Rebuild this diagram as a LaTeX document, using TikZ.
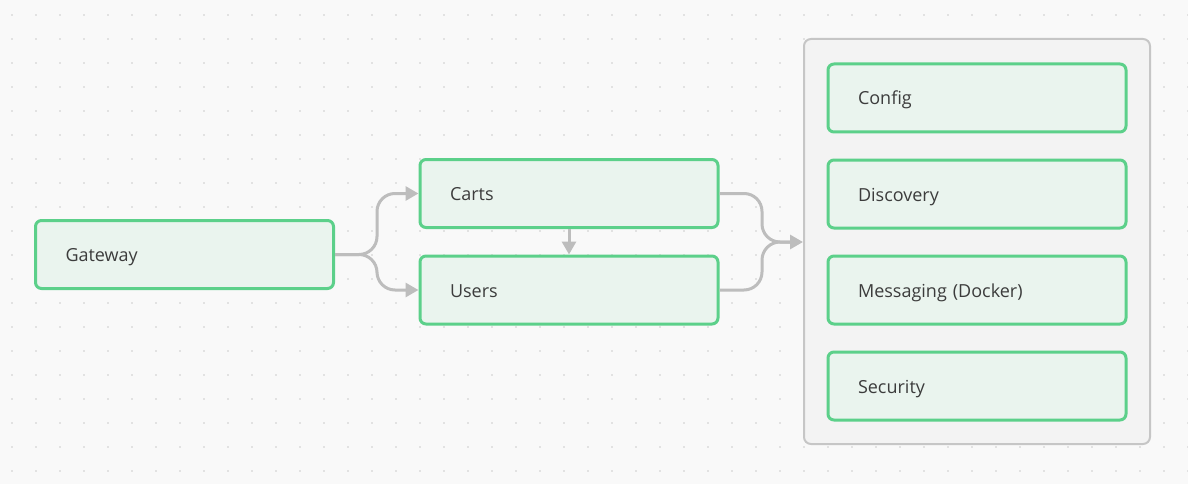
\documentclass[tikz,border=0pt]{standalone}
\usepackage{fontspec}
\setmainfont{Open Sans}
\usetikzlibrary{arrows.meta}
\definecolor{bgc}{HTML}{F9F9F9}
\definecolor{dotc}{HTML}{E2E2E2}
\definecolor{grn}{HTML}{5CD08A}
\definecolor{boxfill}{HTML}{EAF4EE}
\definecolor{edgec}{HTML}{BDBDBD}
\definecolor{txt}{HTML}{3C3C3C}
\definecolor{contfill}{HTML}{F3F3F3}
\definecolor{contline}{HTML}{C6C6C6}
\tikzset{
  svc/.style={draw=grn, line width=3pt, fill=boxfill, rounded corners=6pt,
    minimum height=68pt, text width=238pt, inner xsep=30pt, inner ysep=0pt, align=left,
    text height=18pt, text depth=4pt,
    font=\fontsize{18}{20}\selectfont, text=txt},
  edge/.style={draw=edgec, line width=3pt, rounded corners=18pt},
  tip/.style={-{Triangle[length=13pt,width=14pt]}}
}
\begin{document}
\begin{tikzpicture}[x=1pt,y=-1pt]
\fill[bgc] (0,0) rectangle (1188,484);
\useasboundingbox (0,0) rectangle (1188,484);
\foreach \i in {0,...,49} {\foreach \j in {0,...,19} {
  \fill[dotc] ({12+24*\i-1},{15+24*\j-1}) rectangle ++(2,2);}}
\node[draw=contline, line width=2pt, fill=contfill, rounded corners=7pt,
  minimum width=346pt, minimum height=405pt, inner sep=0pt] (cont) at (977,241.5) {};
\node[svc] (gw) at (184.5,254.5) {Gateway};
\node[svc] (carts) at (569,193.5) {Carts};
\node[svc] (users) at (569,290) {Users};
\node[svc] (config) at (977,98) {Config};
\node[svc] (disc) at (977,194) {Discovery};
\node[svc] (msg) at (977,290) {Messaging (Docker)};
\node[svc] (sec) at (977,386) {Security};
\coordinate (cin) at (cont.west |- 0,242);
\coordinate (lj) at (377,0);
\coordinate (rj) at (762,0);
\draw[edge,tip] (gw.east) -- (gw.east -| lj) -- (lj |- carts.west) -- (carts.west);
\draw[edge,tip] (gw.east) -- (gw.east -| lj) -- (lj |- users.west) -- (users.west);
\draw[edge,tip] (carts.south) -- (users.north);
\draw[edge,tip] (carts.east) -- (carts.east -| rj) -- (rj |- cin) -- (cin);
\draw[edge] (users.east) -- (users.east -| rj) -- (rj |- cin) -- ([xshift=-10pt]cin);
\end{tikzpicture}
\end{document}
